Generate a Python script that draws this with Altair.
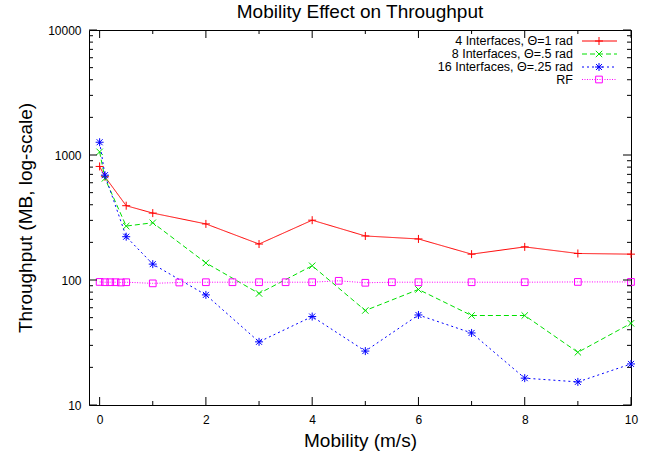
import altair as alt
import pandas as pd

# ---- data ----
x_main = [0, 0.1, 0.5, 1, 2, 3, 4, 5, 6, 7, 8, 9, 10]
thr_4if = [810, 670, 393, 343, 281, 194, 301, 225, 213, 161, 184, 163, 161]
thr_8if = [1060, 650, 270, 287, 137, 78, 130, 57, 84, 52, 52, 26.4, 45]
thr_16if = [1265, 690, 222, 134, 76, 32, 51, 27, 52.5, 37.7, 16.4, 15.3, 21.3]
x_rf = [0, 0.1, 0.2, 0.3, 0.4, 0.5, 1, 1.5, 2, 2.5, 3, 3.5, 4, 4.5, 5, 5.5, 6, 7, 8, 9, 10]
thr_rf = [96.5, 96, 96, 96, 95.5, 96, 94, 95.5, 96, 96, 96, 96, 96, 98.5, 95, 96, 96, 96, 96, 96.5, 96.5]

series_names = ["4 Interfaces, Θ=1 rad", "8 Interfaces, Θ=.5 rad",
                "16 Interfaces, Θ=.25 rad", "RF"]
chart_title = "Mobility Effect on Throughput"

x_major = [0, 2, 4, 6, 8, 10]
x_minor = [1, 3, 5, 7, 9]
y_major = [10, 100, 1000, 10000]
y_minor = [m * d for d in [10, 100, 1000] for m in range(2, 10)]

# ---- styling ----
FONT = "Liberation Sans"
W, H = 542, 375
PLUS = "M-1,0L1,0M0,-1L0,1"
XMARK = "M-0.8,-0.8L0.8,0.8M-0.8,0.8L0.8,-0.8"
STAR = "M-1,0L1,0M0,-1L0,1M-0.75,-0.75L0.75,0.75M-0.75,0.75L0.75,-0.75"
styles = [
    dict(color="#ff0000", dash=[1, 0], shape=PLUS, size=64),
    dict(color="#00e000", dash=[5, 3], shape=XMARK, size=64),
    dict(color="#0000ff", dash=[2, 3], shape=STAR, size=64),
    dict(color="#ff00ff", dash=[1, 1.5], shape="square", size=45),
]

xscale = alt.Scale(domain=[-0.2, 10], nice=False, zero=False)
yscale = alt.Scale(type="log", domain=[10, 10000], nice=False)

x_axis = alt.Axis(values=x_major, format="d", title="Mobility (m/s)",
                  labelFont=FONT, labelFontSize=12, labelPadding=9, labelFlush=False,
                  titleFont=FONT, titleFontSize=19, titleFontWeight="normal",
                  titlePadding=6, tickSize=0, ticks=False, domain=False, grid=False,
                  labelColor="black", titleColor="black")
y_axis = alt.Axis(values=y_major, format="d", title="Throughput (MB, log-scale)",
                  labelFont=FONT, labelFontSize=12, labelPadding=8, labelFlush=False,
                  titleFont=FONT, titleFontSize=19, titleFontWeight="normal",
                  titlePadding=12, tickSize=0, ticks=False, domain=False, grid=False,
                  labelColor="black", titleColor="black")


def X(field):
    return alt.X(field, scale=xscale, axis=x_axis)


def Y(field):
    return alt.Y(field, scale=yscale, axis=y_axis)


series_data = [
    pd.DataFrame({"x": x_main, "y": thr_4if}),
    pd.DataFrame({"x": x_main, "y": thr_8if}),
    pd.DataFrame({"x": x_main, "y": thr_16if}),
    pd.DataFrame({"x": x_rf, "y": thr_rf}),
]

layers = []
for df, st in zip(series_data, styles):
    line = alt.Chart(df).mark_line(color=st["color"], strokeWidth=1,
                                   strokeDash=st["dash"]).encode(x=X("x:Q"), y=Y("y:Q"))
    pts = alt.Chart(df).mark_point(color=st["color"], shape=st["shape"], size=st["size"],
                                   filled=False, strokeWidth=1, opacity=1).encode(
        x=X("x:Q"), y=Y("y:Q"))
    layers += [line, pts]


# ---- inward ticks, mirrored (gnuplot style) ----
def yticks(vals, length):
    d = pd.DataFrame({"v": vals})
    left = alt.Chart(d).mark_rule(color="black", strokeWidth=1).encode(
        y=Y("v:Q"), x=alt.value(0), x2=alt.value(length))
    right = alt.Chart(d).mark_rule(color="black", strokeWidth=1).encode(
        y=Y("v:Q"), x=alt.value(W), x2=alt.value(W - length))
    return [left, right]


def xticks(vals, length):
    d = pd.DataFrame({"v": vals})
    bot = alt.Chart(d).mark_rule(color="black", strokeWidth=1).encode(
        x=X("v:Q"), y=alt.value(H), y2=alt.value(H - length))
    top = alt.Chart(d).mark_rule(color="black", strokeWidth=1).encode(
        x=X("v:Q"), y=alt.value(0), y2=alt.value(length))
    return [bot, top]


layers += yticks(y_major, 8) + yticks(y_minor, 4) + xticks(x_major, 8) + xticks(x_minor, 4)

# ---- legend (gnuplot style: text right, sample on the right) ----
leg_rows = [11, 24, 37, 49.5]
for name, st, ly in zip(series_names, styles, leg_rows):
    d = pd.DataFrame({"label": [name]})
    txt = alt.Chart(d).mark_text(align="right", baseline="middle", font=FONT,
                                 fontSize=12.5, color="black").encode(
        text="label:N", x=alt.value(484), y=alt.value(ly))
    rule = alt.Chart(d).mark_rule(color=st["color"], strokeWidth=1,
                                  strokeDash=st["dash"]).encode(
        x=alt.value(493), x2=alt.value(528), y=alt.value(ly))
    pt = alt.Chart(d).mark_point(color=st["color"], shape=st["shape"], size=st["size"],
                                 filled=False, strokeWidth=1, opacity=1).encode(
        x=alt.value(510), y=alt.value(ly))
    layers += [txt, rule, pt]

# ---- chart title as a text mark above the plot ----
title_layer = alt.Chart(pd.DataFrame({"t": [chart_title]})).mark_text(
    align="center", baseline="alphabetic", font=FONT, fontSize=19, color="black"
).encode(text="t:N", x=alt.value(W / 2), y=alt.value(-12))
layers.append(title_layer)

chart = alt.layer(*layers).properties(
    width=W, height=H,
    autosize=alt.AutoSizeParams(type="none"),
    padding={"left": 89, "top": 30, "right": 29, "bottom": 46},
).configure_view(stroke="black", strokeWidth=1)

chart.save("out.html", embed_options={"renderer": "svg", "actions": False})
